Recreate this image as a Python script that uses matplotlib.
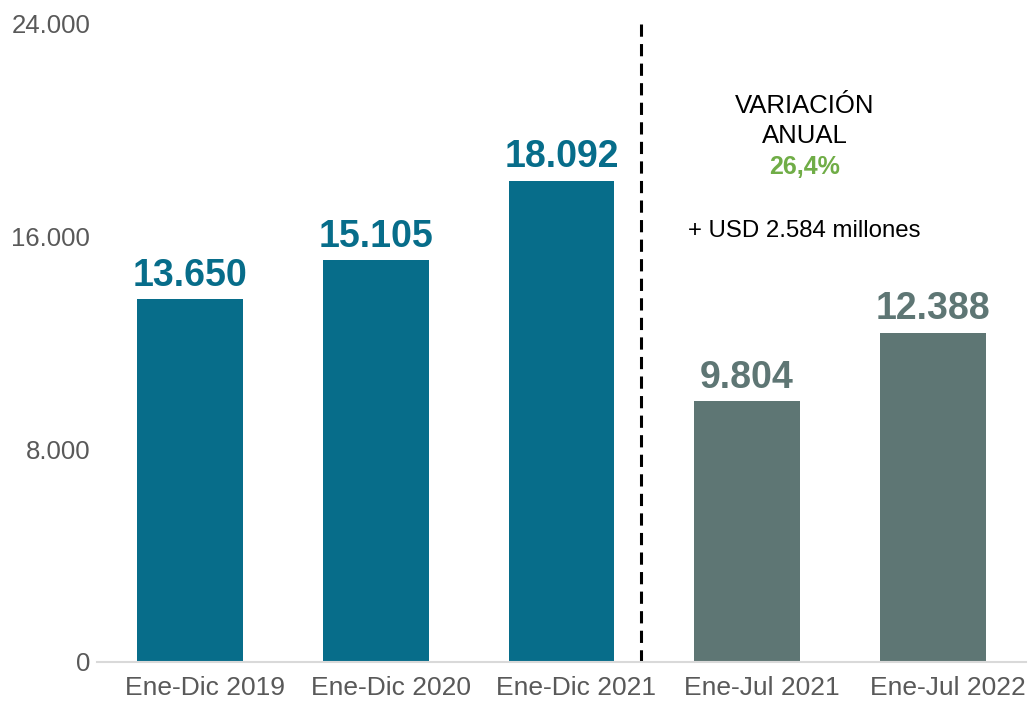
import matplotlib.pyplot as plt
import matplotlib.transforms as mtransforms
from matplotlib.ticker import FuncFormatter

plt.rcParams['font.family'] = ['Liberation Sans', 'DejaVu Sans']

# data
categorias = ['Ene-Dic 2019', 'Ene-Dic 2020', 'Ene-Dic 2021', 'Ene-Jul 2021', 'Ene-Jul 2022']
valores = [13650, 15105, 18092, 9804, 12388]
colores = ['#076D8A', '#076D8A', '#076D8A', '#5E7674', '#5E7674']
yticks = [0, 8000, 16000, 24000]
variacion = '26,4%'
diferencia = '+ USD 2.584 millones'


def miles(v, pos=None):
    return f'{int(v):,}'.replace(',', '.')


fig = plt.figure(figsize=(10.33, 7.02), dpi=100)
ax = fig.add_axes([0.094, 0.057, 0.899, 0.909])

x = list(range(len(categorias)))
ax.bar(x, valores, width=0.57, color=colores)

for xi, v, c in zip(x, valores, colores):
    ax.annotate(miles(v), (xi, v), xytext=(0, 4), textcoords='offset points',
                ha='center', va='bottom', fontsize=27, fontweight='bold', color=c)

# separador
ax.plot([2.43, 2.43], [0, 24200], ls=(0, (4, 2.4)), color='black', lw=2.2, clip_on=False)

# anotacion
ax.text(3.31, 20900, 'VARIACIÓN', ha='center', va='center', fontsize=18.5, color='black')
ax.text(3.31, 19780, 'ANUAL', ha='center', va='center', fontsize=18.5, color='black')
ax.text(3.31, 18600, variacion, ha='center', va='center', fontsize=18, fontweight='bold', color='#70AD47')
ax.text(3.31, 16210, diferencia, ha='center', va='center', fontsize=17.3, color='black')

ax.set_xlim(-0.5, 4.5)
ax.set_ylim(0, 24000)
ax.set_yticks(yticks)
ax.yaxis.set_major_formatter(FuncFormatter(miles))
ax.set_xticks(x)
ax.set_xticklabels(categorias)
ax.tick_params(axis='both', length=0, labelcolor='#595959')
ax.tick_params(axis='x', pad=10, labelsize=19)
ax.tick_params(axis='y', pad=5, labelsize=18.5)

# etiquetas del eje x algo corridas a la derecha, como en el original
shift = mtransforms.ScaledTranslation(0.15, 0, fig.dpi_scale_trans)
for lbl in ax.get_xticklabels():
    lbl.set_transform(lbl.get_transform() + shift)

for s in ['top', 'right', 'left']:
    ax.spines[s].set_visible(False)
ax.spines['bottom'].set_color('#D9D9D9')
ax.spines['bottom'].set_linewidth(1.5)

fig.savefig('out.png', dpi=100)
